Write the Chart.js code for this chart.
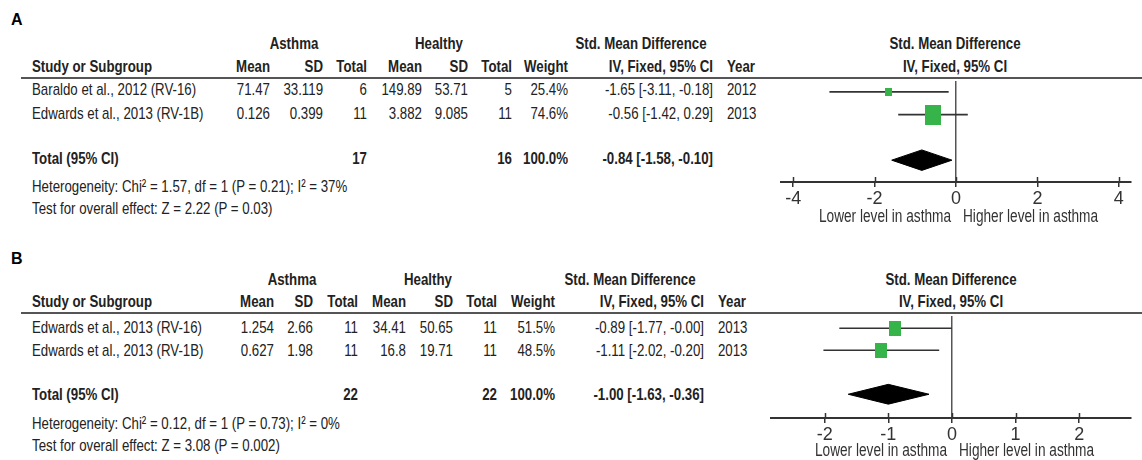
<!DOCTYPE html>
<html>
<head>
<meta charset="utf-8">
<script src="https://cdn.jsdelivr.net/npm/chart.js@4.4.1/dist/chart.umd.min.js"></script>
<style>
  html, body { margin: 0; padding: 0; background: #fff; }
  #fig { position: relative; width: 1142px; height: 460px; overflow: hidden; background: #fff; }
  .rule { position: absolute; height: 2px; background: #555; }
  #fig canvas { position: absolute; }
</style>
</head>
<body>
<div id="fig"></div>
<script>
// ---------- Panel A ----------
const studiesA      = ['Baraldo et al., 2012 (RV-16)', 'Edwards et al., 2013 (RV-1B)'];
const asthmaMeanA   = [71.47, 0.126];
const asthmaSdA     = [33.119, 0.399];
const asthmaNA      = [6, 11];
const healthyMeanA  = [149.89, 3.882];
const healthySdA    = [53.71, 9.085];
const healthyNA     = [5, 11];
const weightA       = [25.4, 74.6];
const smdA          = [-1.65, -0.56];
const ciLowA        = [-3.11, -1.42];
const ciHighA       = [-0.18, 0.29];
const yearA         = [2012, 2013];
const totalNA       = [17, 16];
const pooledA       = [-0.84, -1.58, -0.10];   // estimate, low, high
const hetA          = 'Heterogeneity: Chi² = 1.57, df = 1 (P = 0.21); I² = 37%';
const effectA       = 'Test for overall effect: Z = 2.22 (P = 0.03)';
const ticksA        = [-4, -2, 0, 2, 4];

// ---------- Panel B ----------
const studiesB      = ['Edwards et al., 2013 (RV-16)', 'Edwards et al., 2013 (RV-1B)'];
const asthmaMeanB   = [1.254, 0.627];
const asthmaSdB     = [2.66, 1.98];
const asthmaNB      = [11, 11];
const healthyMeanB  = [34.41, 16.8];
const healthySdB    = [50.65, 19.71];
const healthyNB     = [11, 11];
const weightB       = [51.5, 48.5];
const smdB          = [-0.89, -1.11];
const ciLowB        = [-1.77, -2.02];
const ciHighB       = [-0.00, -0.20];
const yearB         = [2013, 2013];
const totalNB       = [22, 22];
const pooledB       = [-1.00, -1.63, -0.36];
const hetB          = 'Heterogeneity: Chi² = 0.12, df = 1 (P = 0.73); I² = 0%';
const effectB       = 'Test for overall effect: Z = 3.08 (P = 0.002)';
const ticksB        = [-2, -1, 0, 1, 2];

const lowerLabel  = 'Lower level in asthma';
const higherLabel = 'Higher level in asthma';

// ---------- helpers ----------
const fig = document.getElementById('fig');

function hasFont(name) {
  const g = document.createElement('canvas').getContext('2d');
  const s = 'Study or Subgroup 0123456789';
  g.font = '20px monospace';
  const a = g.measureText(s).width;
  g.font = '20px "' + name + '", monospace';
  return g.measureText(s).width !== a;
}
const NARROW  = hasFont('Liberation Sans Narrow');
const FAMILY  = (NARROW ? '"Liberation Sans Narrow", ' : '') + '"Liberation Sans", Arial, sans-serif';
const SQUEEZE = NARROW ? 0.96 : 0.78;

// place one text line; align: 'l' left edge at x, 'r' right edge at x, 'c' centred on x
function put(s, x, y, align, o = {}) {
  const d = document.createElement('div');
  d.textContent = s;
  const size = o.size || 17;
  const W = 600;
  d.style.cssText = 'position:absolute;white-space:nowrap;height:20px;line-height:20px;' +
    'top:' + (y - 10) + 'px;font-size:' + size + 'px;font-weight:' + (o.bold ? 700 : 400) + ';' +
    'font-family:' + (o.wide ? '"Liberation Sans", Arial, sans-serif' : FAMILY) + ';color:' + (o.color || '#222') + ';';
  if (align === 'l') {
    d.style.left = x + 'px'; d.style.transformOrigin = 'left center';
  } else if (align === 'r') {
    d.style.left = (x - W) + 'px'; d.style.width = W + 'px'; d.style.textAlign = 'right';
    d.style.transformOrigin = 'right center';
  } else {
    d.style.left = (x - W / 2) + 'px'; d.style.width = W + 'px'; d.style.textAlign = 'center';
    d.style.transformOrigin = 'center center';
  }
  if (!o.wide) d.style.transform = 'scaleX(' + SQUEEZE + ')';
  fig.appendChild(d);
}

const fmt = v => ((v < 0 || Object.is(v, -0)) ? '-' : '') + Math.abs(v).toFixed(2);
const ciText = (e, l, h) => fmt(e) + ' [' + fmt(l) + ', ' + fmt(h) + ']';

function boxImage(w, h) {
  const c = document.createElement('canvas');
  c.width = w; c.height = h;
  const g = c.getContext('2d');
  g.fillStyle = '#36b449';
  g.fillRect(0, 0, w, h);
  return c;
}

// tick marks that cross the axis line (the upper halves)
const crossTicks = {
  id: 'crossTicks',
  afterDatasetsDraw(chart) {
    const s = chart.scales.x, g = chart.ctx;
    g.save();
    g.strokeStyle = '#333';
    g.lineWidth = 1.5;
    s.ticks.forEach(t => {
      const px = Math.round(s.getPixelForValue(t.value)) + 0.5;
      g.beginPath();
      g.moveTo(px, s.top - 5);
      g.lineTo(px, s.top);
      g.stroke();
    });
    g.restore();
  }
};

function drawPanel(d, L) {
  const c = L.col, y = L.y;

  put(d.letter, 11, y.letter, 'l', { bold: true, size: 16, wide: true, color: '#000' });
  put('Asthma', L.grp.asthma, y.grp, 'c', { bold: true });
  put('Healthy', L.grp.healthy, y.grp, 'c', { bold: true });
  put('Std. Mean Difference', L.grp.smd, y.grp, 'c', { bold: true });
  put('Std. Mean Difference', L.grp.plot, y.grp, 'c', { bold: true });
  put('IV, Fixed, 95% CI', L.grp.plot, y.head, 'c', { bold: true });

  [['Study or Subgroup', c.study, 'l'], ['Mean', c.m1, 'r'], ['SD', c.sd1, 'r'], ['Total', c.n1, 'r'],
   ['Mean', c.m2, 'r'], ['SD', c.sd2, 'r'], ['Total', c.n2, 'r'], ['Weight', c.w, 'r'],
   ['IV, Fixed, 95% CI', c.ci, 'r'], ['Year', c.year, 'l']]
    .forEach(([s, x, a]) => put(s, x, y.head, a, { bold: true }));

  const rule = document.createElement('div');
  rule.className = 'rule';
  rule.style.left = '21px';
  rule.style.top = (y.rule - 1) + 'px';
  rule.style.width = (1142 - 21) + 'px';
  fig.appendChild(rule);

  d.studies.forEach((s, i) => {
    const ry = y.rows[i];
    put(s, c.study, ry, 'l');
    put(String(d.aMean[i]), c.m1, ry, 'r');
    put(String(d.aSd[i]), c.sd1, ry, 'r');
    put(String(d.aN[i]), c.n1, ry, 'r');
    put(String(d.hMean[i]), c.m2, ry, 'r');
    put(String(d.hSd[i]), c.sd2, ry, 'r');
    put(String(d.hN[i]), c.n2, ry, 'r');
    put(d.weight[i].toFixed(1) + '%', c.w, ry, 'r');
    put(ciText(d.smd[i], d.lo[i], d.hi[i]), c.ci, ry, 'r');
    put(String(d.year[i]), c.year, ry, 'l');
  });

  put('Total (95% CI)', c.study, y.total, 'l', { bold: true });
  put(String(d.totalN[0]), c.n1, y.total, 'r', { bold: true });
  put(String(d.totalN[1]), c.n2, y.total, 'r', { bold: true });
  put((100).toFixed(1) + '%', c.w, y.total, 'r', { bold: true });
  put(ciText(d.pooled[0], d.pooled[1], d.pooled[2]), c.ci, y.total, 'r', { bold: true });
  put(d.het, c.study, y.het, 'l');
  put(d.effect, c.study, y.test, 'l');

  // forest plot
  const left = L.plot.left;
  const top = y.rule - 8;
  const height = (y.axis - y.rule) + 8 + 8 + 30;
  const cv = document.createElement('canvas');
  cv.width = 1142 - left; cv.height = height;
  cv.style.left = left + 'px'; cv.style.top = top + 'px';
  cv.style.width = (1142 - left) + 'px'; cv.style.height = height + 'px';
  fig.appendChild(cv);

  const rows = d.studies.map((s, i) => i + 1);
  const pooledRow = d.studies.length + 2;
  const half = 0.45;
  const boxes = L.box.map(([w, h]) => boxImage(w, h));

  const datasets = [];
  d.smd.forEach((e, i) => datasets.push({
    data: [{ x: d.lo[i], y: rows[i] }, { x: d.hi[i], y: rows[i] }],
    borderColor: '#333', borderWidth: 1.6, pointRadius: 0, fill: false, order: 2
  }));
  datasets.push({
    data: d.smd.map((e, i) => ({ x: e, y: rows[i] })),
    showLine: false, pointRadius: 10, order: 0,
    pointStyle: ctx => boxes[ctx.dataIndex] || 'rect',
    backgroundColor: '#36b449', borderColor: '#36b449'
  });
  const [pe, pl, ph] = d.pooled;
  datasets.push({
    data: [{ x: pl, y: pooledRow }, { x: pe, y: pooledRow - half }, { x: ph, y: pooledRow }],
    borderColor: '#000', borderWidth: 1, pointRadius: 0, fill: false, order: 1
  });
  datasets.push({
    data: [{ x: pl, y: pooledRow }, { x: pe, y: pooledRow + half }, { x: ph, y: pooledRow }],
    borderColor: '#000', borderWidth: 1, pointRadius: 0, fill: '-1', backgroundColor: '#000', order: 1
  });

  const chart = new Chart(cv, {
    type: 'line',
    data: { datasets },
    options: {
      responsive: false,
      animation: false,
      events: [],
      layout: { padding: { top: 8, bottom: 8, left: 0, right: 0 } },
      plugins: { legend: { display: false }, tooltip: { enabled: false } },
      scales: {
        x: {
          type: 'linear',
          min: L.plot.xMin, max: L.plot.xMax,
          afterBuildTicks: s => { s.ticks = d.ticks.map(v => ({ value: v })); },
          afterFit: s => { s.height = 30; },
          grid: {
            drawOnChartArea: true,
            color: ctx => (ctx.tick && ctx.tick.value === 0) ? '#555' : 'rgba(0,0,0,0)',
            lineWidth: 1.5,
            tickLength: 5,
            tickColor: '#333',
            tickWidth: 1.5
          },
          border: { display: true, color: '#333', width: 2 },
          ticks: {
            padding: 1,
            color: '#333',
            font: { family: FAMILY, size: 18 },
            callback: v => String(v)
          }
        },
        y: { type: 'linear', display: false, reverse: true, min: L.plot.yMin, max: L.plot.yMax }
      }
    },
    plugins: [crossTicks]
  });

  const zeroPx = left + chart.scales.x.getPixelForValue(0);
  put(lowerLabel, zeroPx - 5, y.bottom, 'r', { size: 17.5, color: '#333' });
  put(higherLabel, zeroPx + 7, y.bottom, 'l', { size: 17.5, color: '#333' });
}

drawPanel({
  letter: 'A', studies: studiesA, aMean: asthmaMeanA, aSd: asthmaSdA, aN: asthmaNA,
  hMean: healthyMeanA, hSd: healthySdA, hN: healthyNA, weight: weightA,
  smd: smdA, lo: ciLowA, hi: ciHighA, year: yearA, totalN: totalNA, pooled: pooledA,
  het: hetA, effect: effectA, ticks: ticksA
}, {
  col: { study: 32, m1: 270, sd1: 323, n1: 367, m2: 422, sd2: 468, n2: 512, w: 568, ci: 713, year: 727 },
  grp: { asthma: 294, healthy: 439, smd: 641, plot: 955 },
  y: { letter: 20, grp: 44, head: 67, rule: 78, rows: [90, 114], total: 159, het: 187, test: 209, axis: 182, bottom: 216 },
  plot: { left: 770, xMin: -4.30, xMax: 4.30, yMin: 0.52, yMax: 4.96 },
  box: [[7, 8], [16, 20]]
});

drawPanel({
  letter: 'B', studies: studiesB, aMean: asthmaMeanB, aSd: asthmaSdB, aN: asthmaNB,
  hMean: healthyMeanB, hSd: healthySdB, hN: healthyNB, weight: weightB,
  smd: smdB, lo: ciLowB, hi: ciHighB, year: yearB, totalN: totalNB, pooled: pooledB,
  het: hetB, effect: effectB, ticks: ticksB
}, {
  col: { study: 32, m1: 274, sd1: 313, n1: 358, m2: 406, sd2: 453, n2: 497, w: 555, ci: 704, year: 718 },
  grp: { asthma: 292, healthy: 428, smd: 630, plot: 951 },
  y: { letter: 259, grp: 280, head: 302, rule: 313, rows: [328, 351], total: 395, het: 424, test: 446, axis: 418, bottom: 450 },
  plot: { left: 760, xMin: -2.844, xMax: 2.815, yMin: 0.44, yMax: 5.08 },
  box: [[12, 15], [12, 15]]
});
</script>
</body>
</html>
